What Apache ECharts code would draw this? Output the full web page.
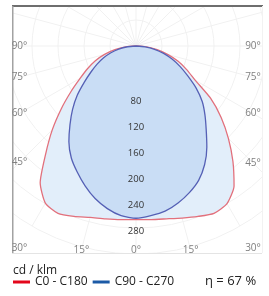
<!DOCTYPE html>
<html><head><meta charset="utf-8">
<script src="https://cdn.jsdelivr.net/npm/echarts@6/dist/echarts.min.js"></script>
<style>html,body{margin:0;padding:0;background:#fff}#c{width:269px;height:296px}</style>
</head><body><div id="c"></div>
<script>
// ---- data (cd/klm, angle measured from nadir) ----
const angles = [0, 5, 10, 15, 20, 25, 30, 35, 40, 45, 50, 55, 60, 65, 70, 75, 80, 85, 90];
const c0   = [267, 268, 270, 274, 279, 284, 280, 263, 232, 201, 171, 140, 105, 86, 69, 51, 33, 16, 0];   // right half
const c180 = [267, 268, 270, 273, 279, 284, 279, 257, 216, 182, 150, 122, 99, 82, 67, 50, 33, 16, 0];    // left half
const c90  = [265, 262, 258, 250, 240, 228, 211, 190, 168, 150, 133, 113, 92, 75, 59, 44, 29, 14, 0];    // right half
const c270 = [265, 262, 254, 243, 229, 214, 199, 180, 158, 138, 118, 97, 80, 66, 53, 40, 27, 13, 0];     // left half
const radialTicks = [80, 120, 160, 200, 240, 280];
const angleTicks  = [90, 75, 60, 45, 30, 15, 0];
const seriesNames = ['C0 - C180', 'C90 - C270'];
const unitLabel   = 'cd / klm';
const efficiency  = 'η = 67 %';

// ---- layout ----
const BOX = {left: 12, top: 6, right: 262, bottom: 253};
const LABEL_BOX = {left: 19.5, right: 253, bottom: 250};
const CENTER = [136, 46];
const FONT = 'Open Sans';

function halves(right, left) {
  const d = [];
  for (let i = angles.length - 1; i > 0; i--) d.push([right[i], 360 - angles[i]]);
  d.push([(right[0] + left[0]) / 2, 0]);
  for (let i = 1; i < angles.length; i++) d.push([left[i], angles[i]]);
  return d;
}

const angleBase = {type: 'value', min: 0, max: 360, interval: 15, startAngle: -90, clockwise: true,
  axisLine: {show: false}, axisTick: {show: false}, axisLabel: {show: false}};
const radiusBase = {type: 'value', min: 0, max: 320, interval: 40,
  axisLine: {show: false}, axisTick: {show: false}};

const chart = echarts.init(document.getElementById('c'), null, {renderer: 'canvas'});
chart.setOption({
  animation: false,
  polar: [{center: CENTER, radius: 208}, {center: CENTER, radius: 208}],
  angleAxis: [
    Object.assign({polarIndex: 0, splitLine: {show: true, lineStyle: {color: '#f1f1f1', width: 1}}}, angleBase),
    Object.assign({polarIndex: 1, splitLine: {show: false}}, angleBase)
  ],
  radiusAxis: [
    Object.assign({polarIndex: 0, axisLabel: {show: false},
      splitLine: {show: true, lineStyle: {color: '#f1f1f1', width: 1}}}, radiusBase),
    Object.assign({polarIndex: 1, splitLine: {show: false}, z: 10,
      axisLabel: {
        formatter: v => radialTicks.includes(v) ? String(v) : '',
        fontSize: 9.5, color: '#333', fontFamily: FONT,
        align: 'center', verticalAlign: 'top', lineHeight: 6, margin: 0
      }}, radiusBase)
  ],
  title: [
    {text: unitLabel, left: 13, top: 265, padding: 0,
     textStyle: {fontSize: 12, fontWeight: 'normal', color: '#222', fontFamily: FONT}},
    {text: efficiency, left: 205, top: 275, padding: 0,
     textStyle: {fontSize: 13, fontWeight: 'normal', color: '#222', fontFamily: FONT}}
  ],
  legend: {
    left: 13, top: 276, padding: 0, icon: 'rect', itemWidth: 17, itemHeight: 3, itemGap: 5,
    selectedMode: false,
    textStyle: {fontSize: 12, color: '#222', fontFamily: FONT},
    data: [
      {name: seriesNames[0], itemStyle: {color: '#e3061b'}},
      {name: seriesNames[1], itemStyle: {color: '#1c5aa6'}}
    ]
  },
  series: [
    {type: 'line', name: seriesNames[0], coordinateSystem: 'polar', polarIndex: 0, data: halves(c0, c180),
     showSymbol: false, smooth: 0.2, z: 2,
     lineStyle: {color: '#e2707c', width: 1.3}, itemStyle: {color: '#e2707c'},
     areaStyle: {color: '#e2eefa', opacity: 1}},
    {type: 'line', name: seriesNames[1], coordinateSystem: 'polar', polarIndex: 0, data: halves(c90, c270),
     showSymbol: false, smooth: 0.2, z: 3,
     lineStyle: {color: '#5560b5', width: 1.3}, itemStyle: {color: '#5560b5'},
     areaStyle: {color: '#c9ddf5', opacity: 1}}
  ]
});

// frame, clipping covers and angle labels placed on the rays of the polar system
const c = chart.convertToPixel({polarIndex: 0}, [0, 0]);
const els = [
  {type: 'rect', shape: {x: 0, y: 0, width: 269, height: BOX.top}, style: {fill: '#fff'}, z: 50, silent: true},
  {type: 'rect', shape: {x: 0, y: 0, width: BOX.left, height: BOX.bottom + 1}, style: {fill: '#fff'}, z: 50, silent: true},
  {type: 'rect', shape: {x: BOX.right + 1, y: 0, width: 10, height: BOX.bottom + 1}, style: {fill: '#fff'}, z: 50, silent: true},
  {type: 'rect', shape: {x: 0, y: BOX.bottom + 1, width: 269, height: 10}, style: {fill: '#fff'}, z: 50, silent: true},
  {type: 'rect', shape: {x: BOX.left, y: BOX.top - 1, width: BOX.right - BOX.left + 1, height: 2}, style: {fill: '#6e6e6e'}, z: 60, silent: true},
  {type: 'rect', shape: {x: BOX.left, y: BOX.top, width: 1.5, height: BOX.bottom - BOX.top}, style: {fill: '#a2a2a2'}, z: 60, silent: true},
  {type: 'rect', shape: {x: BOX.left, y: BOX.bottom, width: BOX.right - BOX.left, height: 1}, style: {fill: '#e4e4e4'}, z: 60, silent: true},
  {type: 'rect', shape: {x: BOX.right, y: BOX.top, width: 1, height: BOX.bottom - BOX.top}, style: {fill: '#f2f2f2'}, z: 60, silent: true}
];
angleTicks.forEach(a => {
  const sides = a === 0 ? [1] : [1, -1];
  sides.forEach(s => {
    const ang = s > 0 ? a : 360 - a;
    const p = chart.convertToPixel({polarIndex: 0}, [100, ang]);
    const dx = p[0] - c[0], dy = p[1] - c[1];
    let t = Infinity;
    if (Math.abs(dx) > 1e-6) t = Math.min(t, ((dx < 0 ? LABEL_BOX.left : LABEL_BOX.right) - c[0]) / dx);
    if (dy > 1e-6) t = Math.min(t, (LABEL_BOX.bottom - c[1]) / dy);
    els.push({type: 'text', x: c[0] + dx * t, y: c[1] + dy * t, z: 70, silent: true,
      style: {text: a + '°', fontSize: 10, fill: '#808080', fontFamily: FONT, align: 'center', verticalAlign: 'middle'}});
  });
});
chart.setOption({graphic: {elements: els}});
</script>
</body></html>
